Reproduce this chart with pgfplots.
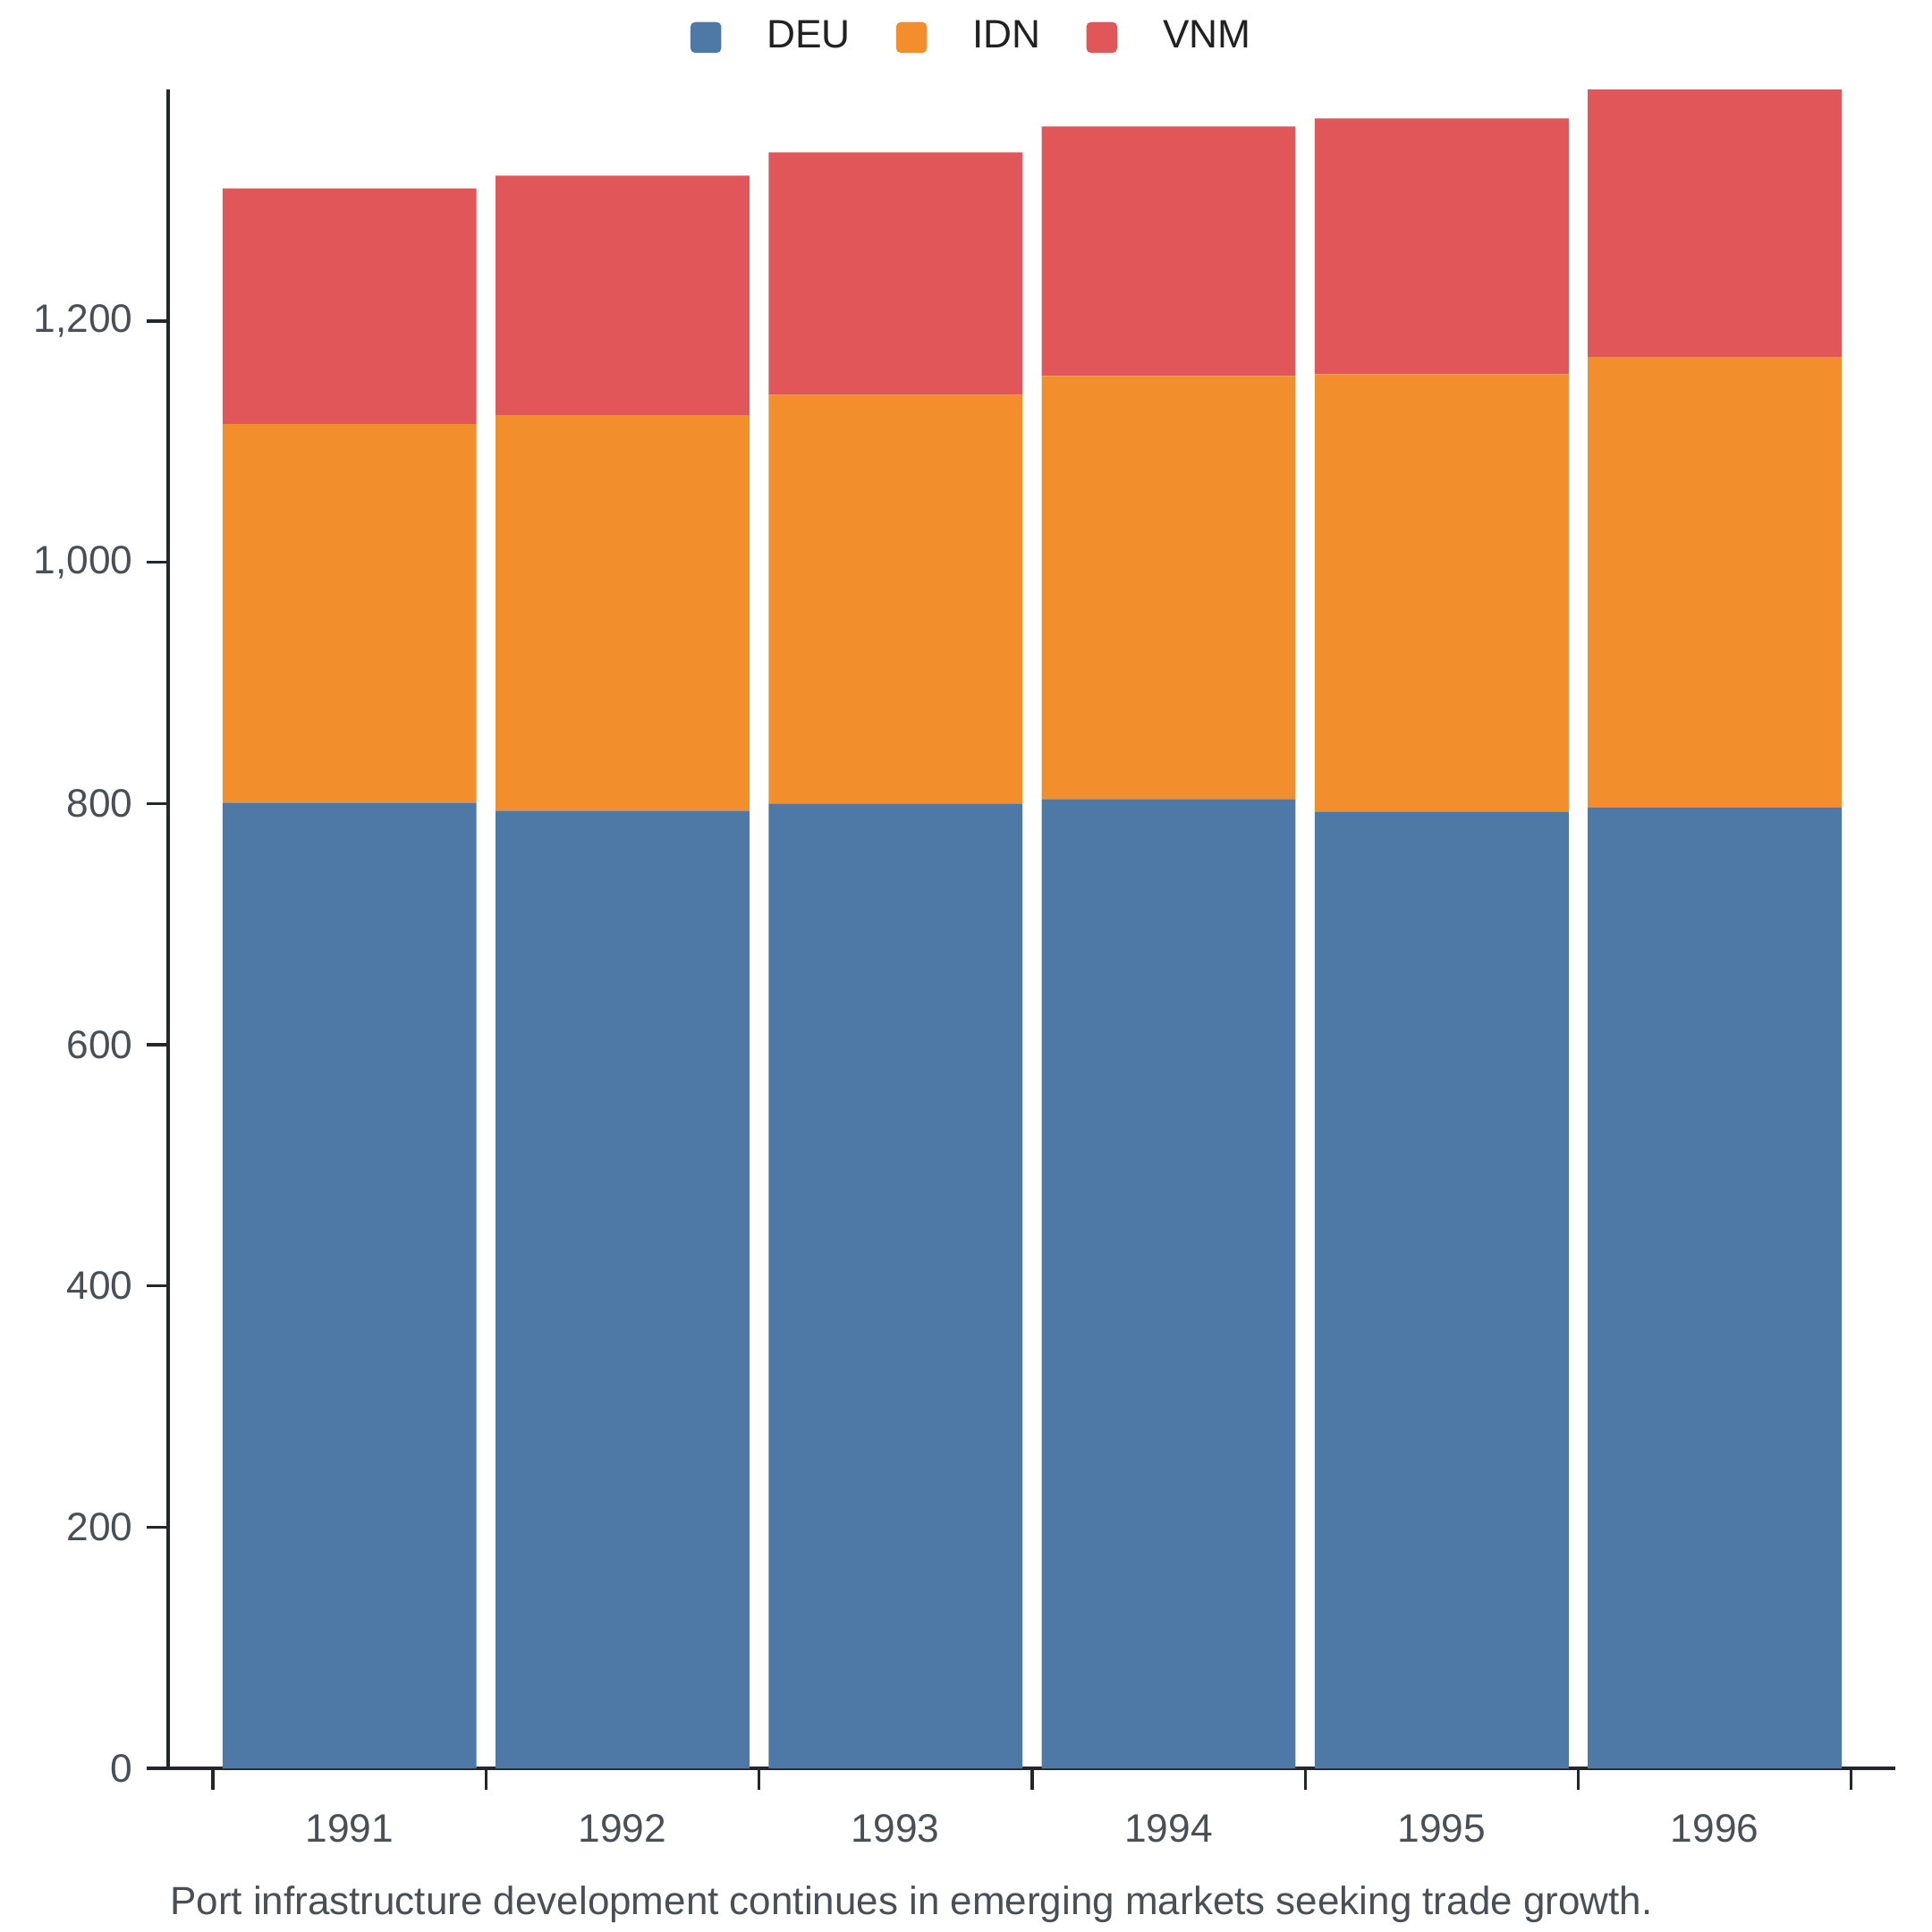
\documentclass[border=0pt]{standalone}
\usepackage{fontspec}
\setmainfont{Liberation Sans}
\usepackage{pgfplots}
\pgfplotsset{compat=1.18}
\definecolor{cdeu}{HTML}{4E79A7}
\definecolor{cidn}{HTML}{F28E2B}
\definecolor{cvnm}{HTML}{E15759}
\definecolor{axc}{HTML}{23262B}
\definecolor{tickc}{HTML}{4A4F55}
\begin{document}
\fontsize{10pt}{12pt}\selectfont
\begin{tikzpicture}
\begin{axis}[
  width=436.1pt, height=423.8pt, scale only axis,
  ybar stacked, bar width=0.93,
  xmin=-0.664, xmax=5.663, ymin=0, ymax=1392,
  axis x line*=bottom, axis y line*=left,
  axis line style={-, draw=axc, line width=0.75pt},
  every outer x axis line/.append style={-},
  every outer y axis line/.append style={-},
  tick align=outside,
  major tick length=5.4pt,
  tick style={draw=axc, line width=0.75pt},
  xtick={-0.5,0.5,1.5,2.5,3.5,4.5,5.5},
  xticklabels={1991,1992,1993,1994,1995,1996,{}},
  xticklabel style={xshift=34.46pt, yshift=-2.8pt, text=tickc, font=\fontsize{10pt}{12pt}\selectfont},
  ytick={0,200,400,600,800,1000,1200},
  yticklabel style={text=tickc, font=\fontsize{10pt}{12pt}\selectfont},
  /pgf/number format/assume math mode=true,
  /pgf/number format/1000 sep={,},
  legend columns=3,
  legend style={draw=none, fill=none, at={(axis description cs:0.4645,1.031)}, anchor=center,
    column sep=11.5pt, nodes={inner sep=0pt, text=black!87}, font=\fontsize{10pt}{12pt}\selectfont},
  legend image code/.code={\fill[#1, rounded corners=1.2pt] (0pt,-3.9pt) rectangle (7.8pt,3.9pt);},
]
\addplot[fill=cdeu, draw=none] coordinates {(0,800.7) (1,794) (2,800) (3,803.6) (4,793.3) (5,796.7)};
\addplot[fill=cidn, draw=none] coordinates {(0,313.9) (1,328) (2,338.8) (3,350.8) (4,362.6) (5,373.5)};
\addplot[fill=cvnm, draw=none] coordinates {(0,195.4) (1,198.5) (2,201) (3,206.9) (4,212.1) (5,221.8)};
\legend{DEU,IDN,VNM}
\end{axis}
\node[anchor=base west, text=tickc, inner sep=0pt, font=\fontsize{9.93pt}{12pt}\selectfont] at ([xshift=0.3pt,yshift=-36.8pt]current axis.south west) {Port infrastructure development continues in emerging markets seeking trade growth.};
\pgfresetboundingbox
\path ([xshift=-42.45pt,yshift=-41.3pt]current axis.south west) rectangle ([xshift=9.15pt,yshift=22.6pt]current axis.north east);
\end{tikzpicture}
\end{document}
